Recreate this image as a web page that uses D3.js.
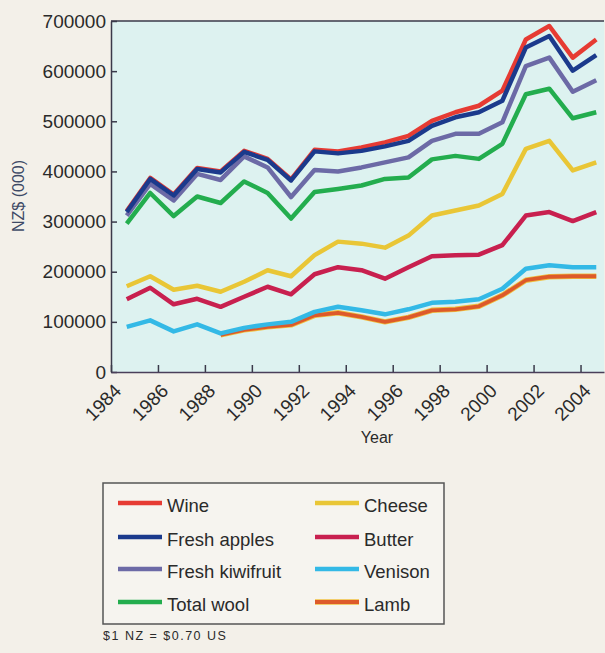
<!DOCTYPE html>
<html>
<head>
<meta charset="utf-8">
<script src="https://cdn.jsdelivr.net/npm/d3@7"></script>
<style>
  html, body { margin: 0; padding: 0; background: #f3f0e9; }
  svg { display: block; font-family: "Liberation Sans", Arial, Helvetica, sans-serif; }
</style>
</head>
<body>
<svg id="chart" width="605" height="653"></svg>
<script>
// ---------------- data (NZ$ 000) ----------------
const years = [1985, 1986, 1987, 1988, 1989, 1990, 1991, 1992, 1993, 1994, 1995,
               1996, 1997, 1998, 1999, 2000, 2001, 2002, 2003, 2004, 2005];

const wine      = [321000, 387000, 354000, 407000, 400000, 441000, 425000, 384000, 443000, 440000, 448000,
                   458000, 471000, 501000, 518000, 531000, 561000, 663000, 690000, 627000, 663000];
const apples    = [319000, 385000, 352000, 405000, 398000, 439000, 423000, 382000, 440000, 436000, 441000,
                   450000, 461000, 491000, 508000, 518000, 541000, 647000, 670000, 601000, 632000];
const kiwifruit = [312000, 375000, 342000, 395000, 383000, 430000, 408000, 349000, 403000, 400000, 408000,
                   418000, 428000, 461000, 475000, 475000, 498000, 610000, 627000, 559000, 582000];
const wool      = [296000, 357000, 311000, 350000, 337000, 380000, 357000, 306000, 359000, 365000, 372000,
                   385000, 388000, 424000, 431000, 425000, 455000, 554000, 565000, 506000, 518000];
const cheese    = [171000, 191000, 164000, 172000, 160000, 180000, 203000, 191000, 233000, 260000, 256000,
                   248000, 272000, 312000, 322000, 332000, 355000, 445000, 461000, 402000, 418000];
const butter    = [145000, 168000, 135000, 146000, 130000, 150000, 170000, 155000, 195000, 209000, 203000,
                   186000, 209000, 231000, 233000, 234000, 253000, 312000, 319000, 301000, 319000];
const venison   = [90000, 103000, 81000, 95000, 77000, 88000, 95000, 100000, 120000, 130000, 123000,
                   115000, 125000, 138000, 140000, 145000, 166000, 206000, 213000, 209000, 209000];
const lamb      = [null, null, null, null, 74000, 84000, 90000, 94000, 113000, 118000, 110000,
                   100000, 109000, 123000, 125000, 131000, 153000, 183000, 190000, 191000, 191000];

const seriesNames  = ["Wine", "Fresh apples", "Fresh kiwifruit", "Total wool", "Cheese", "Butter", "Venison", "Lamb"];
const seriesValues = [wine, apples, kiwifruit, wool, cheese, butter, venison, lamb];
const seriesColors = ["#e63b33", "#1b3a8c", "#6c6aa6", "#23ad4e", "#e9c636", "#c8204f", "#33b9e6", "#dd5a2a"];
const drawOrder    = ["Lamb", "Venison", "Butter", "Cheese", "Total wool", "Fresh kiwifruit", "Wine", "Fresh apples"];

const yTicks = [0, 100000, 200000, 300000, 400000, 500000, 600000, 700000];
const xTicks = [1984, 1986, 1988, 1990, 1992, 1994, 1996, 1998, 2000, 2002, 2004];
const yearShift = 0.33; // values are plotted at the year's reporting point, just before the tick

// ---------------- layout ----------------
const svg = d3.select("#chart");
const plot = { left: 111, right: 604, top: 21, bottom: 372 };

const x = d3.scaleLinear().domain([1984, 2005]).range([plot.left, plot.right]);
const y = d3.scaleLinear().domain([0, 700000]).range([plot.bottom, plot.top]);

// plot background
svg.append("rect")
  .attr("x", plot.left).attr("y", plot.top)
  .attr("width", plot.right - plot.left).attr("height", plot.bottom - plot.top)
  .attr("fill", "#ddf2f0");

// top border
svg.append("line")
  .attr("x1", plot.left).attr("x2", plot.right)
  .attr("y1", plot.top).attr("y2", plot.top)
  .attr("stroke", "#3a3a4a").attr("stroke-width", 1.5);

// lines
const series = seriesNames.map((name, i) => ({
  name, color: seriesColors[i],
  points: years.map((yr, j) => ({ year: yr, value: seriesValues[i][j] }))
}));

const line = d3.line()
  .defined(d => d.value !== null)
  .x(d => x(d.year - yearShift))
  .y(d => y(d.value));

const g = svg.append("g");
drawOrder.forEach(name => {
  const s = series.find(d => d.name === name);
  if (name === "Lamb") {
    g.append("path").datum(s.points)
      .attr("fill", "none").attr("stroke", "#f0c040").attr("stroke-width", 5.5)
      .attr("stroke-linejoin", "round").attr("d", line);
  }
  g.append("path").datum(s.points)
    .attr("fill", "none")
    .attr("stroke", s.color)
    .attr("stroke-width", name === "Lamb" ? 3.8 : 4.5)
    .attr("stroke-linejoin", "round")
    .attr("d", line);
});

// axes
const yAxis = svg.append("g")
  .attr("transform", `translate(${plot.left},0)`)
  .call(d3.axisLeft(y).tickValues(yTicks).tickFormat(d3.format("d"))
        .tickSizeInner(-6).tickSizeOuter(0).tickPadding(5));
yAxis.select(".domain").attr("stroke", "#3a3a4a").attr("stroke-width", 1.5);
yAxis.selectAll(".tick line").attr("stroke", "#3a3a4a").attr("stroke-width", 1.5);
yAxis.selectAll("text").attr("font-size", 19).attr("fill", "#2a2a2a")
  .attr("font-family", "Liberation Sans, Arial, sans-serif");

const xAxis = svg.append("g")
  .attr("transform", `translate(0,${plot.bottom})`)
  .call(d3.axisBottom(x).tickValues(xTicks).tickFormat(d3.format("d"))
        .tickSizeInner(-7).tickSizeOuter(0));
xAxis.select(".domain").attr("stroke", "#4a3f5a").attr("stroke-width", 1.5);
xAxis.selectAll(".tick line").attr("stroke", "#3a3a4a").attr("stroke-width", 1.5);
xAxis.selectAll("text")
  .attr("font-size", 19).attr("fill", "#2a2a2a")
  .attr("text-anchor", "end")
  .attr("x", 0).attr("y", 0).attr("dy", "0.75em")
  .attr("transform", "translate(1,10) rotate(-45)");

// axis titles
svg.append("text")
  .attr("x", 377).attr("y", 443)
  .attr("text-anchor", "middle")
  .attr("font-size", 16).attr("fill", "#2a2a2a")
  .text("Year");

svg.append("text")
  .attr("transform", "translate(24,196) rotate(-90)")
  .attr("text-anchor", "middle")
  .attr("font-size", 16).attr("fill", "#3e4a66")
  .text("NZ$ (000)");

// legend
const legend = svg.append("g");
legend.append("rect")
  .attr("x", 103).attr("y", 483).attr("width", 341).attr("height", 141)
  .attr("fill", "#f6f4ef").attr("stroke", "#555").attr("stroke-width", 1.5);

const rowY = [503, 537, 569, 602];
series.forEach((s, i) => {
  const col = Math.floor(i / 4), row = i % 4;
  const x0 = col === 0 ? 118 : 315;
  const gi = legend.append("g");
  if (s.name === "Lamb") {
    gi.append("line").attr("x1", x0).attr("x2", x0 + 44).attr("y1", rowY[row]).attr("y2", rowY[row])
      .attr("stroke", "#f0c040").attr("stroke-width", 5.5);
  }
  gi.append("line")
    .attr("x1", x0).attr("x2", x0 + 44)
    .attr("y1", rowY[row]).attr("y2", rowY[row])
    .attr("stroke", s.color).attr("stroke-width", s.name === "Lamb" ? 3.8 : 4.5);
  gi.append("text")
    .attr("x", x0 + 49).attr("y", rowY[row] + 3)
    .attr("dy", "0.35em")
    .attr("font-size", 18.5).attr("fill", "#2a2a2a")
    .text(s.name);
});

// footnote
svg.append("text")
  .attr("x", 103).attr("y", 640)
  .attr("font-size", 12.5).attr("fill", "#2a2a2a")
  .attr("letter-spacing", 1.5)
  .text("$1 NZ = $0.70 US");
</script>
</body>
</html>
